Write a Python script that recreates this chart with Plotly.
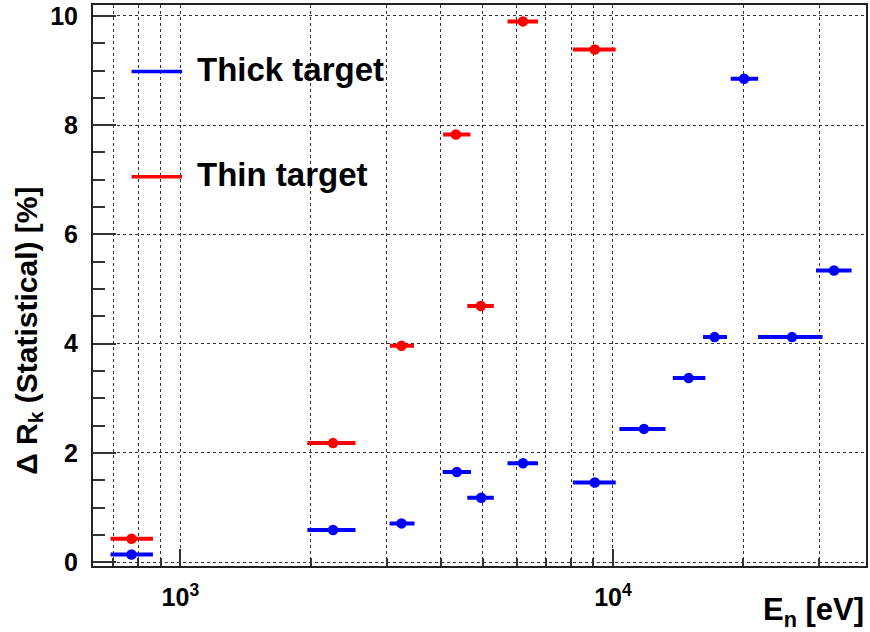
import plotly.graph_objects as go

# ---------------- data ----------------
thick_x = [771, 2254, 3245, 4355, 4960, 6195, 9079, 11794, 14962, 17180, 20100, 25940, 32440]
thick_lo = [697, 1987, 3078, 4084, 4656, 5766, 8166, 10460, 13900, 16330, 18920, 21880, 29790]
thick_hi = [855, 2513, 3440, 4647, 5248, 6640, 10040, 13090, 16180, 18160, 21430, 30200, 35240]
thick_y = [0.14, 0.59, 0.71, 1.65, 1.18, 1.81, 1.46, 2.44, 3.37, 4.12, 8.85, 4.12, 5.34]

thin_x = [771, 2254, 3245, 4335, 4950, 6195, 9079]
thin_lo = [697, 1987, 3083, 4093, 4656, 5766, 8166]
thin_hi = [855, 2513, 3430, 4633, 5248, 6640, 10040]
thin_y = [0.43, 2.18, 3.96, 7.83, 4.69, 9.90, 9.385]

series_names = ["Thick target", "Thin target"]
series_colors = ["#0000ff", "#ff0000"]

x_major = [1000, 10000]
x_major_text = ["10<sup>3</sup>", "10<sup>4</sup>"]
x_minor = [700, 800, 900, 2000, 3000, 4000, 5000, 6000, 7000, 8000, 9000, 20000, 30000]

FONT = "Liberation Sans, Arial, Helvetica, sans-serif"

fig = go.Figure()

for xs, lo, hi, ys, col in [
    (thick_x, thick_lo, thick_hi, thick_y, series_colors[0]),
    (thin_x, thin_lo, thin_hi, thin_y, series_colors[1]),
]:
    fig.add_trace(go.Scatter(
        x=xs, y=ys, mode="markers",
        marker=dict(color=col, size=10.5, symbol="circle"),
        error_x=dict(type="data", symmetric=False,
                     array=[h - x for h, x in zip(hi, xs)],
                     arrayminus=[x - l for l, x in zip(lo, xs)],
                     color=col, thickness=4, width=2),
        showlegend=False,
        cliponaxis=True,
    ))

# ---------------- manual legend ----------------
leg_y = [0.8813, 0.694]
for name, col, yy in zip(series_names, series_colors, leg_y):
    fig.add_shape(type="line", xref="paper", yref="paper",
                  x0=0.0499, x1=0.1152, y0=yy, y1=yy,
                  line=dict(color=col, width=3.5))
    fig.add_annotation(xref="paper", yref="paper", x=0.1325, y=yy + 0.003,
                       text=name, showarrow=False, xanchor="left", yanchor="middle",
                       font=dict(family=FONT, size=33, color="black", weight="bold"))

# ---------------- axis titles ----------------
fig.add_annotation(xref="paper", yref="paper", x=1.0, y=-0.082,
                   text="E<sub>n</sub> [eV]", showarrow=False,
                   xanchor="right", yanchor="middle",
                   font=dict(family=FONT, size=31, color="black", weight="bold"))
fig.add_annotation(xref="paper", yref="paper", x=-0.0835, y=0.42,
                   text="\u0394 R<sub>k</sub> (Statistical) [%]", showarrow=False,
                   textangle=-90, xanchor="center", yanchor="middle",
                   font=dict(family=FONT, size=30, color="black", weight="bold"))

grid_col = "#333333"
fig.update_xaxes(
    type="log", range=[2.798, 4.585],
    tickmode="array", tickvals=x_major, ticktext=x_major_text,
    ticks="inside", ticklen=17, tickwidth=1.5, tickcolor="#333",
    showgrid=True, gridcolor=grid_col, griddash="dot", gridwidth=1,
    minor=dict(tickmode="array", tickvals=x_minor, ticks="inside", ticklen=8,
               tickwidth=1.5, tickcolor="#333",
               showgrid=True, gridcolor=grid_col, griddash="dot", gridwidth=1),
    showline=True, linecolor="#222", linewidth=2, mirror=True,
    zeroline=False,
    tickfont=dict(family=FONT, size=25, color="black", weight="bold"),
    ticklabelstandoff=8,
)
fig.update_yaxes(
    range=[-0.07, 10.2],
    tickmode="array", tickvals=[0, 2, 4, 6, 8, 10], ticktext=["0", "2", "4", "6", "8", "10"],
    ticks="inside", ticklen=23, tickwidth=1.5, tickcolor="#333",
    showgrid=True, gridcolor=grid_col, griddash="dot", gridwidth=1,
    minor=dict(dtick=0.5, ticks="inside", ticklen=12, tickwidth=1.5, tickcolor="#333",
               showgrid=False),
    showline=True, linecolor="#222", linewidth=2, mirror=True,
    zeroline=False,
    tickfont=dict(family=FONT, size=25, color="black", weight="bold"),
    ticklabelstandoff=8,
)

fig.update_layout(
    width=870, height=632,
    margin=dict(l=93, r=2, t=4, b=66),
    paper_bgcolor="white", plot_bgcolor="white",
    showlegend=False,
)

fig.write_html("out.html")
